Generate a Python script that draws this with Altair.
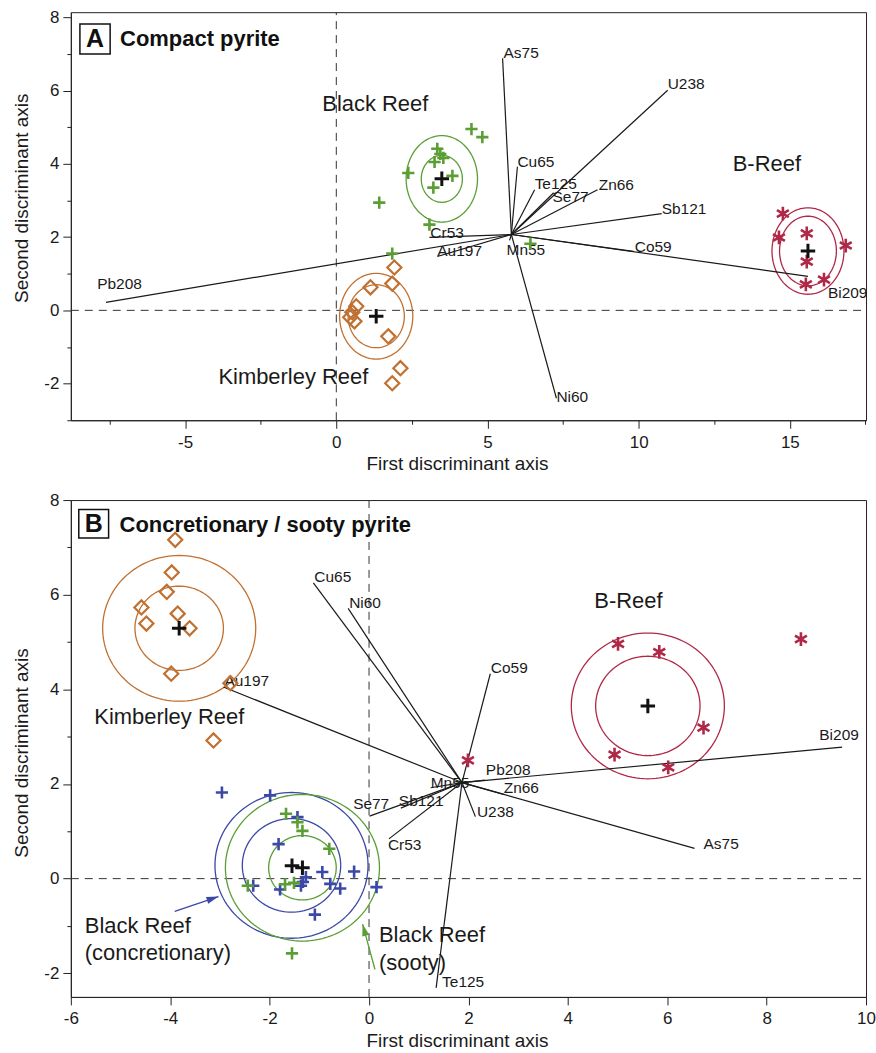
import numpy as np
import pandas as pd
import altair as alt

FONT = "Liberation Sans"
GREEN = "#5a9e34"
BROWN = "#c07030"
RED = "#b02848"
BLUE = "#3b48a6"
INK = "#1a1a1a"

PLUS = "M-1,0L1,0M0,-1L0,1"
ASTER = "M0,-1L0,1M-0.866,-0.5L0.866,0.5M-0.866,0.5L0.866,-0.5"
HEAD = "M0,0L0.6,2L-0.6,2Z"

# ---------------- Panel A: compact pyrite ----------------
a_black_x = [4.47, 4.83, 3.34, 3.44, 3.54, 3.25, 2.38, 3.84, 3.21, 1.42, 3.08, 1.85, 6.42]
a_black_y = [4.95, 4.73, 4.41, 4.27, 4.16, 4.05, 3.75, 3.67, 3.35, 2.94, 2.34, 1.55, 1.82]
a_kimb_x = [1.92, 1.13, 1.85, 0.66, 0.53, 0.46, 0.60, 1.72, 2.12, 1.85]
a_kimb_y = [1.17, 0.63, 0.73, 0.11, -0.05, -0.19, -0.30, -0.71, -1.58, -1.99]
a_breef_x = [14.77, 14.64, 15.56, 15.56, 16.85, 15.53, 16.13]
a_breef_y = [2.64, 1.99, 2.10, 1.33, 1.77, 0.71, 0.84]

a_groups = ["Black Reef", "Kimberley Reef", "B-Reef"]
a_cent_x = [3.49, 1.32, 15.60]
a_cent_y = [3.59, -0.16, 1.62]
a_inner_rx = [0.68, 0.93, 0.94]
a_inner_ry = [0.64, 0.86, 0.95]
a_outer_rx = [1.18, 1.21, 1.19]
a_outer_ry = [1.18, 1.17, 1.18]
a_ring_colors = [GREEN, BROWN, RED]

a_origin = (5.79, 2.07)
a_vec_names = ["As75", "U238", "Cu65", "Te125", "Se77", "Zn66", "Sb121",
               "Co59", "Bi209", "Mn55", "Ni60", "Cr53", "Au197", "Pb208"]
a_vec_x = [5.50, 10.96, 5.99, 6.56, 7.19, 8.64, 10.76, 9.83, 15.60, 5.73, 7.28, 3.08, 3.34, -7.62]
a_vec_y = [6.88, 6.01, 3.92, 3.29, 3.21, 3.29, 2.64, 1.61, 0.93, 1.91, -2.40, 1.99, 1.47, 0.22]
a_lab_x = [5.53, 10.96, 5.99, 6.56, 7.15, 8.68, 10.76, 9.87, 16.26, 5.63, 7.28, 3.11, 3.34, -7.91]
a_lab_y = [7.02, 6.18, 4.05, 3.46, 3.10, 3.43, 2.78, 1.74, 0.46, 1.66, -2.37, 2.12, 1.63, 0.71]

a_name_text = ["Black Reef", "Kimberley Reef", "B-Reef"]
a_name_x = [1.29, -1.42, 14.24]
a_name_y = [5.63, -1.82, 4.00]

# ---------------- Panel B: concretionary / sooty pyrite ----------------
b_kimb_x = [-3.90, -3.97, -4.07, -4.58, -3.85, -4.48, -3.61, -3.98, -2.79, -3.13]
b_kimb_y = [7.16, 6.47, 6.06, 5.73, 5.60, 5.39, 5.29, 4.33, 4.13, 2.92]
b_breef_x = [5.01, 5.84, 8.69, 6.73, 4.94, 6.02, 1.99]
b_breef_y = [4.96, 4.79, 5.06, 3.19, 2.62, 2.35, 2.50]
b_conc_x = [-2.96, -1.99, -1.44, -1.82, -0.94, -0.30, -1.27, -1.33, -2.33, -1.79,
            -0.78, -0.58, 0.15, -1.09, -1.37]
b_conc_y = [1.82, 1.76, 1.30, 0.73, 0.14, 0.15, 0.03, -0.07, -0.15, -0.23,
            -0.11, -0.21, -0.18, -0.76, -0.15]
b_sooty_x = [-1.67, -1.44, -1.34, -0.80, -2.44, -1.69, -1.51, -1.55]
b_sooty_y = [1.37, 1.19, 1.01, 0.63, -0.15, -0.12, -0.09, -1.58]

b_groups = ["Kimberley Reef", "B-Reef", "Black Reef (concretionary)", "Black Reef (sooty)"]
b_cent_x = [-3.82, 5.61, -1.55, -1.34]
b_cent_y = [5.29, 3.65, 0.27, 0.23]
b_ring_cx = [-3.82, 5.61, -1.56, -1.34]
b_ring_cy = [5.29, 3.65, 0.28, 0.23]
b_inner_r = [0.89, 1.05, 0.99, 0.68]
b_outer_r = [1.54, 1.54, 1.54, 1.55]
b_ring_colors = [BROWN, RED, BLUE, GREEN]

b_origin = (1.87, 2.03)
b_vec_names = ["Co59", "Bi209", "Pb208", "Zn66", "U238", "As75", "Te125",
               "Cu65", "Ni60", "Au197", "Se77", "Sb121", "Cr53", "Mn55"]
b_vec_x = [2.44, 9.52, 2.33, 2.71, 2.14, 6.55, 1.35, -1.12, -0.42, -2.93, 0.01, 0.64, 0.40, 1.24]
b_vec_y = [4.33, 2.78, 2.08, 1.78, 1.31, 0.64, -2.31, 6.25, 5.71, 4.05, 1.32, 1.49, 0.84, 1.92]
b_lab_x = [2.45, 9.06, 2.35, 2.71, 2.17, 6.73, 1.47, -1.10, -0.40, -2.91, -0.32, 0.60, 0.38, 1.24]
b_lab_y = [4.46, 3.04, 2.29, 1.91, 1.40, 0.73, -2.19, 6.37, 5.83, 4.17, 1.58, 1.63, 0.71, 2.03]

b_name_text = ["Kimberley Reef", "B-Reef"]
b_name_x = [-4.02, 5.22]
b_name_y = [3.42, 5.87]
b_note_text = ["Black Reef", "(concretionary)", "Black Reef", "(sooty)"]
b_note_x = [-5.72, -5.72, 0.20, 0.20]
b_note_y = [-1.00, -1.58, -1.19, -1.78]

# pointers from the Black Reef notes to their rings
b_arrow_x0 = [-3.91, 0.12]
b_arrow_y0 = [-0.69, -1.92]
b_arrow_x1 = [-3.03, -0.13]
b_arrow_y1 = [-0.38, -0.96]
b_arrow_colors = [BLUE, GREEN]

# plot frames
A_W, A_H = 797, 409
B_W, B_H = 797, 498
A_XDOM, A_YDOM = [-8.78, 17.52], [-3.0, 8.14]
B_XDOM, B_YDOM = [-6.0, 10.0], [-2.5, 8.0]


def ring_frame(cx, cy, rx, ry, colors, tag):
    t = np.linspace(0, 2 * np.pi, 121)
    parts = []
    for k in range(len(cx)):
        parts.append(pd.DataFrame({
            "x": cx[k] + rx[k] * np.cos(t),
            "y": cy[k] + ry[k] * np.sin(t),
            "ring": f"{tag}{k}",
            "col": colors[k],
            "i": np.arange(len(t)),
        }))
    return pd.concat(parts, ignore_index=True)


def make_axes(xvals, x_major, yvals, y_major, x_title_y, y_title_y):
    ax = alt.Axis(
        values=xvals, title="First discriminant axis", grid=False,
        labelExpr=f"({x_major}) ? toString(datum.value) : ''",
        tickSize={"condition": {"test": x_major, "value": 8}, "value": 4},
        labelPadding=6, labelFlush=False, labelOverlap=False,
        titleX=387, titleY=x_title_y, titleBaseline="alphabetic",
    )
    ay = alt.Axis(
        values=yvals, title="Second discriminant axis", grid=False,
        labelExpr=f"({y_major}) ? toString(datum.value) : ''",
        tickSize={"condition": {"test": y_major, "value": 8}, "value": 4},
        labelPadding=4, labelFlush=False, labelOverlap=False,
        titleX=-43, titleY=y_title_y, titleBaseline="alphabetic",
    )
    return ax, ay


def panel(xdom, ydom, ax, ay, w, h, rings, origin, vnames, vx, vy, lx, ly,
          point_sets, centroids, texts, title_letter, title_text, title_box, extra=None):
    xs = alt.Scale(domain=xdom, nice=False, zero=False)
    ys = alt.Scale(domain=ydom, nice=False, zero=False)
    X = alt.X("x:Q", scale=xs, axis=ax)
    Y = alt.Y("y:Q", scale=ys, axis=ay)

    layers = []
    # dashed zero lines
    zx = pd.DataFrame({"x": [0.0, 0.0], "y": [ydom[0], ydom[1]]})
    zy = pd.DataFrame({"x": [xdom[0], xdom[1]], "y": [0.0, 0.0]})
    for z in (zx, zy):
        layers.append(alt.Chart(z).mark_line(color="#333", strokeWidth=1, strokeDash=[8, 6])
                      .encode(x=X, y=Y))

    # confidence rings
    layers.append(
        alt.Chart(rings).mark_line(strokeWidth=1.3).encode(
            x=X, y=Y, detail="ring:N", order="i:Q",
            color=alt.Color("col:N", scale=None)))

    # loading vectors
    vec = pd.DataFrame({"name": vnames, "x": origin[0], "y": origin[1], "x2": vx, "y2": vy,
                        "lx": lx, "ly": ly})
    layers.append(alt.Chart(vec).mark_rule(color=INK, strokeWidth=1.2)
                  .encode(x=X, y=Y, x2="x2:Q", y2="y2:Q"))
    layers.append(alt.Chart(vec).mark_text(align="left", baseline="middle", font=FONT,
                                           fontSize=15.5, color=INK)
                  .encode(x=alt.X("lx:Q", scale=xs, axis=ax),
                          y=alt.Y("ly:Q", scale=ys, axis=ay), text="name:N"))

    if extra is not None:
        layers.extend(extra(X, Y))

    # samples
    for px, py, shape, color, size, sw in point_sets:
        df = pd.DataFrame({"x": px, "y": py})
        layers.append(alt.Chart(df).mark_point(shape=shape, filled=False, size=size,
                                               strokeWidth=sw, color=color, opacity=1)
                      .encode(x=X, y=Y))

    # group centroids
    cdf = pd.DataFrame({"x": centroids[0], "y": centroids[1]})
    layers.append(alt.Chart(cdf).mark_point(shape=PLUS, filled=False, size=210,
                                            strokeWidth=3, color="#111", opacity=1)
                  .encode(x=X, y=Y))

    # group names
    for tx, ty, tt, align in texts:
        tdf = pd.DataFrame({"x": tx, "y": ty, "t": tt})
        layers.append(alt.Chart(tdf).mark_text(align=align, baseline="middle", font=FONT,
                                               fontSize=22, color=INK)
                      .encode(x=X, y=Y, text="t:N"))

    # panel heading
    bdf = pd.DataFrame({"x": [title_box[0]], "x2": [title_box[1]],
                        "y": [title_box[2]], "y2": [title_box[3]]})
    layers.append(alt.Chart(bdf).mark_rect(fill="white", stroke="#111", strokeWidth=1.5)
                  .encode(x=X, y=Y, x2="x2:Q", y2="y2:Q"))
    ldf = pd.DataFrame({"x": [title_letter[0]], "y": [title_letter[1]], "t": [title_letter[2]]})
    layers.append(alt.Chart(ldf).mark_text(align="center", baseline="middle", font=FONT,
                                           fontSize=25, fontWeight="bold", color="#111")
                  .encode(x=X, y=Y, text="t:N"))
    hdf = pd.DataFrame({"x": [title_text[0]], "y": [title_text[1]], "t": [title_text[2]]})
    layers.append(alt.Chart(hdf).mark_text(align="left", baseline="middle", font=FONT,
                                           fontSize=22, fontWeight="bold", color="#111")
                  .encode(x=X, y=Y, text="t:N"))

    return alt.layer(*layers).properties(width=w, height=h)


# ---- panel A ----
a_rings = pd.concat([
    ring_frame(a_cent_x, a_cent_y, a_inner_rx, a_inner_ry, a_ring_colors, "a_in"),
    ring_frame(a_cent_x, a_cent_y, a_outer_rx, a_outer_ry, a_ring_colors, "a_out"),
], ignore_index=True)

ax_a, ay_a = make_axes(
    [-7.5, -5, -2.5, 0, 2.5, 5, 7.5, 10, 12.5, 15, 17.5], "datum.value % 5 == 0",
    list(range(-3, 9)), "datum.value % 2 == 0", 49, 186)

chart_a = panel(
    A_XDOM, A_YDOM, ax_a, ay_a, A_W, A_H, a_rings, a_origin,
    a_vec_names, a_vec_x, a_vec_y, a_lab_x, a_lab_y,
    [(a_kimb_x, a_kimb_y, "diamond", BROWN, 200, 2.2),
     (a_black_x, a_black_y, PLUS, GREEN, 150, 2.6),
     (a_breef_x, a_breef_y, ASTER, RED, 190, 2.6)],
    (a_cent_x, a_cent_y),
    [(a_name_x, a_name_y, a_name_text, "center")],
    (-7.98, 7.40, "A"), (-7.15, 7.40, "Compact pyrite"), (-8.48, -7.48, 7.82, 7.00),
)

# ---- panel B ----
b_rings = pd.concat([
    ring_frame(b_ring_cx, b_ring_cy, b_inner_r, b_inner_r, b_ring_colors, "b_in"),
    ring_frame(b_ring_cx, b_ring_cy, b_outer_r, b_outer_r, b_ring_colors, "b_out"),
], ignore_index=True)

ax_b, ay_b = make_axes(
    list(range(-6, 11, 2)), "datum.value % 2 == 0",
    list(range(-2, 9)), "datum.value % 2 == 0", 50, 253)

px_per_x = B_W / (B_XDOM[1] - B_XDOM[0])
px_per_y = B_H / (B_YDOM[1] - B_YDOM[0])
b_arrow_angle = [
    float(np.degrees(np.arctan2((x1 - x0) * px_per_x, (y1 - y0) * px_per_y)) % 360)
    for x0, y0, x1, y1 in zip(b_arrow_x0, b_arrow_y0, b_arrow_x1, b_arrow_y1)
]


def b_arrows(X, Y):
    out = []
    for k in range(len(b_arrow_x0)):
        sdf = pd.DataFrame({"x": [b_arrow_x0[k]], "y": [b_arrow_y0[k]],
                            "x2": [b_arrow_x1[k]], "y2": [b_arrow_y1[k]]})
        out.append(alt.Chart(sdf).mark_rule(color=b_arrow_colors[k], strokeWidth=1.3)
                   .encode(x=X, y=Y, x2="x2:Q", y2="y2:Q"))
        hdf = pd.DataFrame({"x": [b_arrow_x1[k]], "y": [b_arrow_y1[k]]})
        out.append(alt.Chart(hdf).mark_point(shape=HEAD, filled=True, size=144,
                                             angle=round(b_arrow_angle[k], 1),
                                             color=b_arrow_colors[k], opacity=1)
                   .encode(x=X, y=Y))
    return out


chart_b = panel(
    B_XDOM, B_YDOM, ax_b, ay_b, B_W, B_H, b_rings, b_origin,
    b_vec_names, b_vec_x, b_vec_y, b_lab_x, b_lab_y,
    [(b_kimb_x, b_kimb_y, "diamond", BROWN, 200, 2.2),
     (b_breef_x, b_breef_y, ASTER, RED, 190, 2.6),
     (b_conc_x, b_conc_y, PLUS, BLUE, 150, 2.6),
     (b_sooty_x, b_sooty_y, PLUS, GREEN, 150, 2.6)],
    (b_cent_x, b_cent_y),
    [(b_name_x, b_name_y, b_name_text, "center"),
     (b_note_x, b_note_y, b_note_text, "left")],
    (-5.54, 7.50, "B"), (-5.02, 7.47, "Concretionary / sooty pyrite"),
    (-5.84, -5.24, 7.80, 7.20),
    extra=b_arrows,
)

chart = (
    alt.vconcat(chart_a, chart_b, spacing=16)
    .properties(padding={"left": 12, "top": 6, "right": 0, "bottom": 0},
                background="white")
    .configure_view(stroke="#222", strokeWidth=1)
    .configure_axis(
        domainColor="#222", tickColor="#222", labelColor="#1a1a1a", titleColor="#1a1a1a",
        labelFont=FONT, titleFont=FONT, labelFontSize=17, titleFontSize=19,
        titleFontWeight="normal", tickWidth=1, domainWidth=1,
    )
)

chart.save("out.html", embed_options={"renderer": "svg", "actions": False})
